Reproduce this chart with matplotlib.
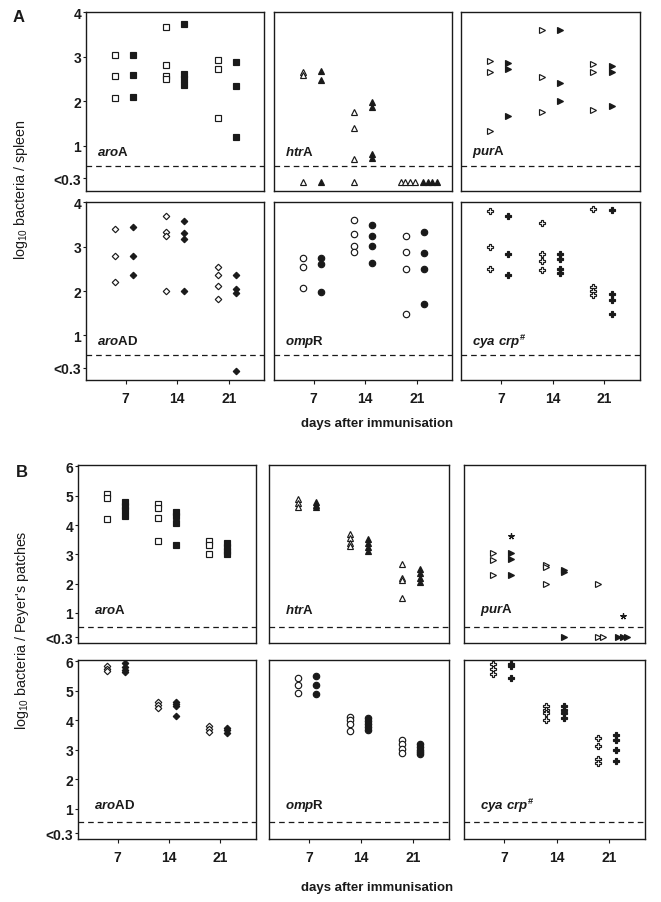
import matplotlib
matplotlib.use("Agg")
import matplotlib.pyplot as plt

# ---------------------------------------------------------------------------
# Data (log10 bacteria); "<0.3" = below detection limit
# ---------------------------------------------------------------------------

BELOW = "<0.3"
days = [7, 14, 21]

# A: spleen
spleen_aroA_open = [[3.05, 2.58, 2.08], [3.67, 2.82, 2.57, 2.50], [2.92, 2.72, 1.62]]
spleen_aroA_filled = [[3.05, 2.60, 2.09], [3.74, 2.62, 2.50, 2.37], [2.88, 2.35, 1.19]]
spleen_htrA_open = [[2.66, 2.60, BELOW], [1.77, 1.41, 0.70, BELOW], [BELOW, BELOW, BELOW, BELOW]]
spleen_htrA_filled = [[2.69, 2.47, BELOW], [1.98, 1.88, 0.82, 0.74], [BELOW, BELOW, BELOW, BELOW]]
spleen_purA_open = [[2.90, 2.66, 1.34], [3.60, 2.55, 1.77], [2.85, 2.67, 1.80]]
spleen_purA_filled = [[2.87, 2.72, 1.68], [3.60, 2.41, 2.01], [2.79, 2.66, 1.89]]
spleen_aroAD_open = [[3.40, 2.78, 2.21], [3.68, 3.32, 3.24, 2.00], [2.53, 2.35, 2.11, 1.81]]
spleen_aroAD_filled = [[3.45, 2.78, 2.36], [3.58, 3.30, 3.17, 2.01], [2.37, 2.04, 1.95, BELOW]]
spleen_ompR_open = [[2.75, 2.53, 2.07], [3.60, 3.28, 3.02, 2.87], [3.24, 2.89, 2.49, 1.48]]
spleen_ompR_filled = [[2.75, 2.62, 1.97], [3.49, 3.24, 3.02, 2.64], [3.32, 2.85, 2.49, 1.71]]
spleen_cya_open = [[3.80, 3.00, 2.49], [3.53, 2.83, 2.68, 2.47], [3.85, 2.10, 2.00, 1.92]]
spleen_cya_filled = [[3.70, 2.83, 2.37], [2.84, 2.73, 2.49, 2.41], [3.83, 1.94, 1.79, 1.49]]

# B: Peyer's patches
pp_aroA_open = [[5.05, 4.93, 4.19], [4.72, 4.59, 4.25, 3.47], [3.47, 3.32, 3.02]]
pp_aroA_filled = [[4.80, 4.65, 4.50, 4.30], [4.45, 4.30, 4.08, 3.33], [3.38, 3.25, 3.12, 3.02]]
pp_htrA_open = [[4.90, 4.75, 4.60], [3.70, 3.55, 3.40, 3.28], [2.67, 2.20, 2.12, 1.50]]
pp_htrA_filled = [[4.80, 4.70, 4.60], [3.53, 3.40, 3.25, 3.10], [2.50, 2.35, 2.20, 2.05]]
pp_purA_open = [[3.04, 2.79, 2.30], [2.62, 2.56, 1.99], [1.99, BELOW, BELOW]]
pp_purA_filled = [[3.04, 2.85, 2.30], [2.45, 2.38, BELOW], [BELOW, BELOW, BELOW]]
pp_purA_star = [3.61, None, 0.90]
pp_aroAD_open = [[5.85, 5.75, 5.65], [4.60, 4.50, 4.40], [3.80, 3.70, 3.60]]
pp_aroAD_filled = [[5.93, 5.80, 5.70, 5.62], [4.62, 4.55, 4.47, 4.14], [3.74, 3.65, 3.58]]
pp_ompR_open = [[5.44, 5.19, 4.93], [4.12, 4.00, 3.86, 3.63], [3.33, 3.18, 3.03, 2.90]]
pp_ompR_filled = [[5.49, 5.19, 4.90], [4.08, 3.98, 3.88, 3.78, 3.66], [3.18, 3.08, 3.00, 2.92, 2.84]]
pp_cya_open = [[5.89, 5.75, 5.58], [4.48, 4.36, 4.23, 3.99], [3.40, 3.12, 2.67, 2.56]]
pp_cya_filled = [[5.90, 5.82, 5.44], [4.48, 4.36, 4.23, 4.08], [3.48, 3.32, 2.99, 2.61]]

strain_labels = [r"$\mathit{aro}$A", r"$\mathit{htr}$A", r"$\mathit{pur}$A",
                 r"$\mathit{aro}$AD", r"$\mathit{omp}$R", r"$\mathit{cya\ crp}^{\#}$"]

# ---------------------------------------------------------------------------
# Style
# ---------------------------------------------------------------------------

plt.rcParams.update({
    "font.family": ["Liberation Sans", "DejaVu Sans"],
    "mathtext.fontset": "custom",
    "mathtext.it": "Liberation Sans:italic:bold",
    "mathtext.rm": "Liberation Sans:bold",
    "mathtext.bf": "Liberation Sans:bold",
    "mathtext.sf": "Liberation Sans",
})

INK = "#1a1a1a"
OPEN_DX, FILLED_DX = -1.5, 0.95
FLOOR_SHIFT = {"open": 0.3, "filled": 0.85}
FLOOR_STEP = 0.65
XLIM = (1.6, 25.8)

markers = [("s", 4.5), ("^", 5.0), (">", 4.6), ("D", 3.3), ("o", 4.6), ("P", 4.9)]

FIG_W, FIG_H = 661, 903


def px_axes(fig, x0, x1, y0, y1):
    return fig.add_axes([x0 / FIG_W, 1 - y1 / FIG_H, (x1 - x0) / FIG_W, (y1 - y0) / FIG_H])


def draw_groups(ax, series, kind, dx, marker, ms, floor_y):
    face = "white" if kind == "open" else INK
    for day, group in zip(days, series):
        ys = [v for v in group if v != BELOW]
        ax.plot([day + dx] * len(ys), ys, ls="none", marker=marker, ms=ms,
                mfc=face, mec=INK, mew=0.85, zorder=3)
        n = group.count(BELOW)
        if n:
            centre = day + dx + (FLOOR_SHIFT[kind] if n > 1 else 0)
            xs = [centre + (i - (n - 1) / 2) * FLOOR_STEP for i in range(n)]
            ax.plot(xs, [floor_y] * n, ls="none", marker=marker, ms=ms,
                    mfc=face, mec=INK, mew=0.85, zorder=3)


def style_axes(ax, ylim, yticks, ylabels, dash_y, show_y, show_x):
    ax.set_xlim(*XLIM)
    ax.set_ylim(*ylim)
    for sp in ax.spines.values():
        sp.set_linewidth(1.0)
        sp.set_color(INK)
    ax.axhline(dash_y, color=INK, lw=0.9, dashes=(4.5, 3.2), zorder=1)
    if show_y:
        ax.set_yticks(yticks)
        ax.set_yticklabels(ylabels)
    else:
        ax.set_yticks([])
    if show_x:
        ax.set_xticks(days)
        ax.set_xticklabels([str(d) for d in days])
    else:
        ax.set_xticks([])
    ax.tick_params(axis="y", length=2.5, width=0.8, pad=1, labelsize=10, colors=INK)
    ax.tick_params(axis="x", length=3, width=0.8, pad=5, labelsize=10, colors=INK)
    for lab in ax.get_xticklabels() + ax.get_yticklabels():
        lab.set_fontweight("bold")


def draw_block(fig, cols, rows, data, ylim, yticks, ylabels, dash_y, floor_y,
               label_xy, stars=None):
    axes = []
    for i, (opn, fil) in enumerate(data):
        r, c = divmod(i, 3)
        ax = px_axes(fig, cols[c][0], cols[c][1], rows[r][0], rows[r][1])
        style_axes(ax, ylim, yticks, ylabels, dash_y, c == 0, r == 1)
        marker, ms = markers[i]
        draw_groups(ax, opn, "open", OPEN_DX, marker, ms, floor_y)
        draw_groups(ax, fil, "filled", FILLED_DX, marker, ms, floor_y)
        ax.text(label_xy[0], label_xy[1], strain_labels[i], transform=ax.transAxes,
                fontsize=9.5, fontweight="bold", color=INK, ha="left", va="center")
        if stars is not None and stars[0] == i:
            for day, grp, val in zip(days, fil, stars[1]):
                if val is None:
                    continue
                n = grp.count(BELOW)
                x = day + FILLED_DX + (FLOOR_SHIFT["filled"] if n > 1 else 0)
                ax.plot([x], [val], ls="none", marker=(5, 2, 0), ms=4.5,
                        color=INK, mew=0.9, zorder=3)
        axes.append(ax)
    return axes


fig = plt.figure(figsize=(FIG_W / 100, FIG_H / 100), dpi=100)
fig.patch.set_facecolor("white")

# Panel A
spleen_data = [(spleen_aroA_open, spleen_aroA_filled), (spleen_htrA_open, spleen_htrA_filled),
               (spleen_purA_open, spleen_purA_filled), (spleen_aroAD_open, spleen_aroAD_filled),
               (spleen_ompR_open, spleen_ompR_filled), (spleen_cya_open, spleen_cya_filled)]
draw_block(fig, [(86, 264), (274, 452), (461, 640)], [(13.3, 191.5), (203.3, 380.7)],
           spleen_data, (0.0, 4.0), [0.27, 1, 2, 3, 4], ["<0.3", "1", "2", "3", "4"],
           0.55, 0.2, (0.06, 0.22))

# Panel B
pp_data = [(pp_aroA_open, pp_aroA_filled), (pp_htrA_open, pp_htrA_filled),
           (pp_purA_open, pp_purA_filled), (pp_aroAD_open, pp_aroAD_filled),
           (pp_ompR_open, pp_ompR_filled), (pp_cya_open, pp_cya_filled)]
draw_block(fig, [(78, 255.5), (269, 448.5), (464, 645)], [(466, 644), (660.7, 840)],
           pp_data, (-0.03, 6.05), [0.17, 1, 2, 3, 4, 5, 6],
           ["<0.3", "1", "2", "3", "4", "5", "6"],
           0.53, 0.19, (0.09, 0.19), stars=(2, pp_purA_star))

# Figure texts
fig.text(19 / FIG_W, 1 - 18 / FIG_H, "A", fontsize=12, fontweight="bold", color=INK,
         ha="center", va="center")
fig.text(21.5 / FIG_W, 1 - 473 / FIG_H, "B", fontsize=12, fontweight="bold", color=INK,
         ha="center", va="center")
fig.text(21.5 / FIG_W, 1 - 190 / FIG_H, r"log$_{\mathsf{10}}$ bacteria / spleen",
         rotation=90, fontsize=10.3, color=INK, ha="center", va="center")
fig.text(22 / FIG_W, 1 - 630 / FIG_H, r"log$_{\mathsf{10}}$ bacteria / Peyer's patches",
         rotation=90, fontsize=10.3, color=INK, ha="center", va="center")
fig.text(377 / FIG_W, 1 - 424 / FIG_H, "days after immunisation", fontsize=9.5,
         fontweight="bold", color=INK, ha="center", va="center")
fig.text(377 / FIG_W, 1 - 888 / FIG_H, "days after immunisation", fontsize=9.5,
         fontweight="bold", color=INK, ha="center", va="center")

fig.savefig("out.png", dpi=100, facecolor="white")
plt.close(fig)
